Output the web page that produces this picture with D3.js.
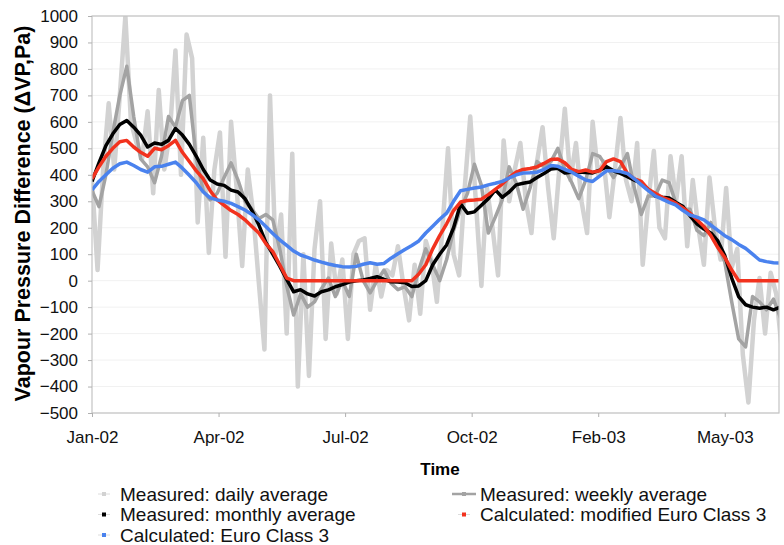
<!DOCTYPE html>
<html>
<head>
<meta charset="utf-8">
<script src="https://cdn.jsdelivr.net/npm/d3@7"></script>
<style>
  body { margin: 0; background: #fff; }
  svg { font-family: "Liberation Sans", Arial, sans-serif; }
</style>
</head>
<body>
<svg id="chart" width="784" height="545"></svg>
<script>
// x tick positions are in days since 1 Jan 2002
const tickDays = [0, 91, 182, 273, 364, 455]
const tickLabels = ["Jan-02", "Apr-02", "Jul-02", "Oct-02", "Feb-03", "May-03"]
const yTicks = [-500, -400, -300, -200, -100, 0, 100, 200, 300, 400, 500, 600, 700, 800, 900, 1000]

// sampling interval (days) of each series
const dailyStep = 4
const weeklyStep = 5
const smoothStep = 5

const daily = [380, 40, 420, 670, 420, 700, 1000, 600, 520, 460, 640, 330, 720, 420, 560, 870,
  400, 930, 840, 220, 540, 105, 420, 560, 90, 600, 350, 55, 420, 250, -10, -260, 700, 100, 250,
  -200, 480, -400, 100, -360, 120, 300, -220, 140, -50, 80, -220, 100, 150, 160, -110, 60, -60,
  40, 20, 130, -20, -150, 60, -125, 150, 80, -80, 200, 500, 100, 20, 350, 620, 300, -20, 350,
  200, 20, 530, 300, 420, 520, 300, 180, 450, 580, 350, 160, 420, 650, 380, 520, 300, 180, 600,
  400, 450, 240, 420, 615, 380, 300, 520, 60, 300, 490, 200, 160, 470, 300, 470, 130, 380, 200,
  60, 390, 200, 80, 350, 50, 120, -280, -460, -150, 10, -200, 30, -50, -260]

const weekly = [340, 280, 400, 560, 700, 810, 620, 460, 430, 370, 470, 620, 580, 680, 700, 460,
  340, 305, 330, 390, 445, 380, 300, 270, 235, 250, 230, 120, -20, -130, -50, -100, -80, -30, 10,
  -60, 0, -60, 100, 0, -46, 0, 40, -10, -34, -23, -60, 40, 120, 60, 0, 80, 190, 270, 330, 440,
  360, 180, 240, 305, 430, 370, 270, 350, 450, 430, 450, 500, 420, 370, 310, 380, 480, 470, 430,
  390, 430, 480, 350, 250, 320, 320, 380, 370, 290, 270, 270, 190, 170, 220, 132, 70, -80, -220,
  -250, -60, -80, -110, -70, -140]

const monthly = [375, 445, 510, 555, 590, 605, 580, 550, 505, 520, 515, 530, 575, 550, 515, 470,
  420, 380, 365, 360, 342, 335, 310, 265, 210, 145, 100, 55, 5, -42, -34, -50, -58, -42, -35, -23,
  -15, -5, 0, 3, 8, 15, 5, -4, -5, -8, -22, -20, 0, 60, 100, 135, 200, 290, 255, 260, 285, 310,
  343, 315, 335, 362, 368, 373, 390, 405, 422, 425, 407, 410, 411, 409, 407, 418, 430, 415, 405,
  393, 380, 368, 345, 320, 315, 312, 295, 280, 245, 215, 195, 180, 150, 95, 10, -60, -91, -100,
  -104, -100, -110, -100]

const modified = [385, 430, 470, 500, 525, 530, 505, 485, 470, 500, 495, 510, 530, 485, 450, 415,
  385, 340, 305, 285, 265, 250, 230, 205, 180, 140, 110, 60, 10, 0, 0, 0, 0, 0, 0, 0, 0, 0, 0, 0,
  0, 0, 0, 0, 0, 0, 0, 25, 60, 120, 170, 215, 265, 297, 303, 305, 308, 325, 345, 365, 390, 410,
  420, 424, 430, 443, 458, 460, 445, 420, 412, 418, 410, 415, 450, 460, 450, 405, 385, 375, 345,
  330, 315, 305, 292, 275, 255, 230, 205, 170, 125, 88, 40, 0, 0, 0, 0, 0, 0, 0]

const euro = [343, 375, 400, 425, 442, 448, 435, 420, 410, 430, 432, 440, 448, 425, 398, 370,
  335, 313, 305, 300, 292, 280, 267, 250, 230, 205, 178, 154, 133, 112, 97, 88, 78, 70, 63, 57,
  53, 52, 54, 62, 68, 62, 65, 85, 102, 118, 133, 150, 180, 206, 232, 255, 300, 340, 345, 350,
  354, 362, 368, 375, 388, 400, 407, 408, 410, 420, 435, 432, 420, 410, 395, 380, 375, 395, 415,
  415, 412, 405, 385, 362, 340, 320, 308, 296, 285, 265, 248, 240, 230, 210, 190, 170, 155, 137,
  122, 100, 78, 72, 68, 66]

const series = [
  { name: "Measured: daily average", values: daily, step: dailyStep, color: "#d2d2d2", width: 4.5 },
  { name: "Measured: weekly average", values: weekly, step: weeklyStep, color: "#a3a3a3", width: 3.5 },
  { name: "Measured: monthly average", values: monthly, step: smoothStep, color: "#000000", width: 3.5 },
  { name: "Calculated: modified Euro Class 3", values: modified, step: smoothStep, color: "#f2321e", width: 3.5 },
  { name: "Calculated: Euro Class 3", values: euro, step: smoothStep, color: "#4a82ee", width: 3.5 }
]

const margin = { top: 16, right: 5, bottom: 132, left: 92 }
const w = 784
const h = 545
const width = w - margin.left - margin.right
const height = h - margin.top - margin.bottom

const x = d3.scaleLinear().domain([0, 494]).range([0, width])
const y = d3.scaleLinear().domain([-500, 1000]).range([height, 0])

const svg = d3.select("#chart")
const chart = svg.append("g")
  .attr("transform", `translate(${margin.left}, ${margin.top})`)

chart.append("clipPath").attr("id", "plot-clip")
  .append("rect").attr("width", width).attr("height", height)

// faint gridlines
chart.append("g")
  .selectAll("line")
  .data(yTicks)
  .enter()
  .append("line")
  .attr("x1", 0).attr("x2", width)
  .attr("y1", d => y(d)).attr("y2", d => y(d))
  .attr("stroke", "#f1f1f1")

const plot = chart.append("g").attr("clip-path", "url(#plot-clip)")
series.forEach(s => {
  const path = d3.line()
    .x((d, i) => x(i * s.step))
    .y(d => y(d))
  plot.append("path")
    .datum(s.values)
    .attr("fill", "none")
    .attr("stroke", s.color)
    .attr("stroke-width", s.width)
    .attr("stroke-linejoin", "round")
    .attr("d", path)
})

// border
chart.append("rect")
  .attr("width", width).attr("height", height)
  .attr("fill", "none").attr("stroke", "#c4c4c4").attr("stroke-width", 1.2)

// axes
const xAxis = d3.axisBottom(x).tickValues(tickDays)
  .tickFormat((d, i) => tickLabels[i]).tickSize(4).tickPadding(14)
const yAxis = d3.axisLeft(y).tickValues(yTicks).tickFormat(d3.format("d"))
  .tickSize(4).tickPadding(10)

const gx = chart.append("g").attr("transform", `translate(0, ${height})`).call(xAxis)
const gy = chart.append("g").call(yAxis)
;[gx, gy].forEach(g => {
  g.select(".domain").remove()
  g.selectAll("line").attr("stroke", "#b0b0b0")
  g.selectAll("text").attr("fill", "#111").style("font-size", "17px")
    .style("font-family", "'Liberation Sans', Arial, sans-serif")
})

chart.append("text")
  .attr("x", 348).attr("y", height + 62)
  .attr("text-anchor", "middle")
  .style("font-size", "17px").style("font-weight", "bold")
  .text("Time")

chart.append("text")
  .attr("transform", "rotate(-90)")
  .attr("x", -height / 2 + 1).attr("y", -62)
  .attr("text-anchor", "middle")
  .style("font-size", "21.5px").style("font-weight", "bold")
  .text("Vapour Pressure Difference (\u0394VP,Pa)")

// legend
const legendPos = [[0, 0], [360, 0], [0, 1], [360, 1], [0, 2]]
const legend = svg.append("g").attr("transform", "translate(92, 494)")
const item = legend.selectAll("g")
  .data(series)
  .enter()
  .append("g")
  .attr("transform", (d, i) => `translate(${legendPos[i][0]}, ${legendPos[i][1] * 20.5})`)

item.append("line")
  .attr("x1", (d, i) => i === 1 ? 0 : 6).attr("x2", (d, i) => i === 1 ? 24 : 18)
  .attr("y1", 0).attr("y2", 0)
  .attr("stroke", (d, i) => i === 1 ? d.color : "#dcdcdc")
  .attr("stroke-width", (d, i) => i === 1 ? 2.5 : 1)
item.append("rect")
  .attr("x", 10).attr("y", -2).attr("width", 4).attr("height", 4)
  .attr("fill", d => d.color)
item.append("text")
  .attr("x", 28).attr("y", 0).attr("dy", "0.35em")
  .style("font-size", "19px")
  .attr("fill", "#111")
  .text(d => d.name)
</script>
</body>
</html>
